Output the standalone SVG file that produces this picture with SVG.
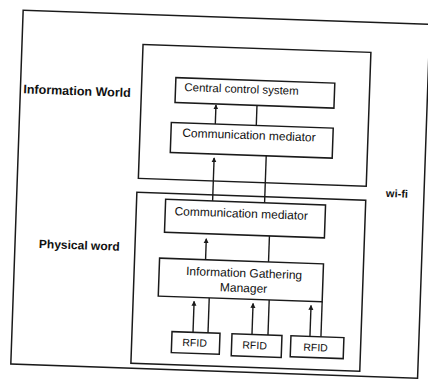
<svg xmlns="http://www.w3.org/2000/svg" width="428" height="379" viewBox="0 0 428 379">
<style>
.frame{fill:none;stroke:#1a1a1a;stroke-width:1.5}
.box{fill:#fff;stroke:#1a1a1a;stroke-width:1.5}
.t{font-family:"Liberation Sans",Arial,sans-serif;fill:#111;text-anchor:middle}
.lbl{font-family:"Liberation Sans",Arial,sans-serif;font-weight:bold;fill:#111}
.c{stroke:#1a1a1a;stroke-width:1.4;fill:none}
.a{stroke:#1a1a1a;stroke-width:1.4;fill:none;marker-end:url(#ah)}
</style>
<defs>
<marker id="ah" viewBox="0 0 8 8" refX="7" refY="4" markerWidth="5" markerHeight="6" markerUnits="userSpaceOnUse" orient="auto">
<path d="M0,0 L8,4 L0,8 z" fill="#1a1a1a"/>
</marker>
</defs>
<rect width="428" height="379" fill="#fff"/>
<g transform="rotate(2 214 190)">
<rect id="outer" class="frame" x="17" y="17" width="407" height="354"/>
<g id="information-world">
<rect class="frame" x="138" y="47" width="228" height="134"/>
<text class="lbl" x="20" y="100" font-size="12.5">Information World</text>
</g>
<g id="physical-world">
<rect class="frame" x="137" y="195" width="229" height="171"/>
<text class="lbl" x="41" y="254" font-size="12">Physical word</text>
</g>
<g id="wifi"><text class="lbl" x="386" y="191" font-size="11">wi-fi</text></g>
<g id="central">
<rect class="box" x="172" y="79" width="159" height="25"/>
<text class="t" x="238" y="92" font-size="11.5">Central control system</text>
</g>
<g id="mediator1">
<rect class="box" x="169" y="124" width="162" height="30"/>
<text class="t" x="247" y="138" font-size="12">Communication mediator</text>
</g>
<g id="mediator2">
<rect class="box" x="166" y="201" width="160" height="33"/>
<text class="t" x="242" y="216.5" font-size="12">Communication mediator</text>
</g>
<g id="igm">
<rect class="box" x="162" y="260" width="164" height="38"/>
<text class="t" x="247" y="276" font-size="12">Information Gathering</text>
<text class="t" x="247" y="291" font-size="12">Manager</text>
</g>
<g id="rfid1">
<rect class="box" x="177" y="333" width="48" height="21"/>
<text class="t" x="200" y="347" font-size="10.5">RFID</text>
</g>
<g id="rfid2">
<rect class="box" x="237" y="333" width="50" height="22"/>
<text class="t" x="260" y="347.5" font-size="10.5">RFID</text>
</g>
<g id="rfid3">
<rect class="box" x="296" y="333" width="53" height="21"/>
<text class="t" x="321" y="347.5" font-size="10.5">RFID</text>
</g>
<g id="connectors">
<line class="a" x1="213" y1="124" x2="213" y2="105"/>
<line class="c" x1="254" y1="104" x2="254" y2="124"/>
<line class="a" x1="213" y1="201" x2="213" y2="158"/>
<line class="c" x1="265" y1="154" x2="265" y2="201"/>
<line class="a" x1="208" y1="260" x2="208" y2="239"/>
<line class="c" x1="271" y1="234" x2="271" y2="260"/>
<line class="a" x1="198" y1="333" x2="198" y2="302"/>
<line class="c" x1="213" y1="298" x2="213" y2="333"/>
<line class="a" x1="257" y1="333" x2="257" y2="302"/>
<line class="c" x1="273" y1="298" x2="273" y2="333"/>
<line class="a" x1="315" y1="333" x2="315" y2="302"/>
<line class="c" x1="326" y1="298" x2="326" y2="333"/>
</g>
</g>
</svg>
